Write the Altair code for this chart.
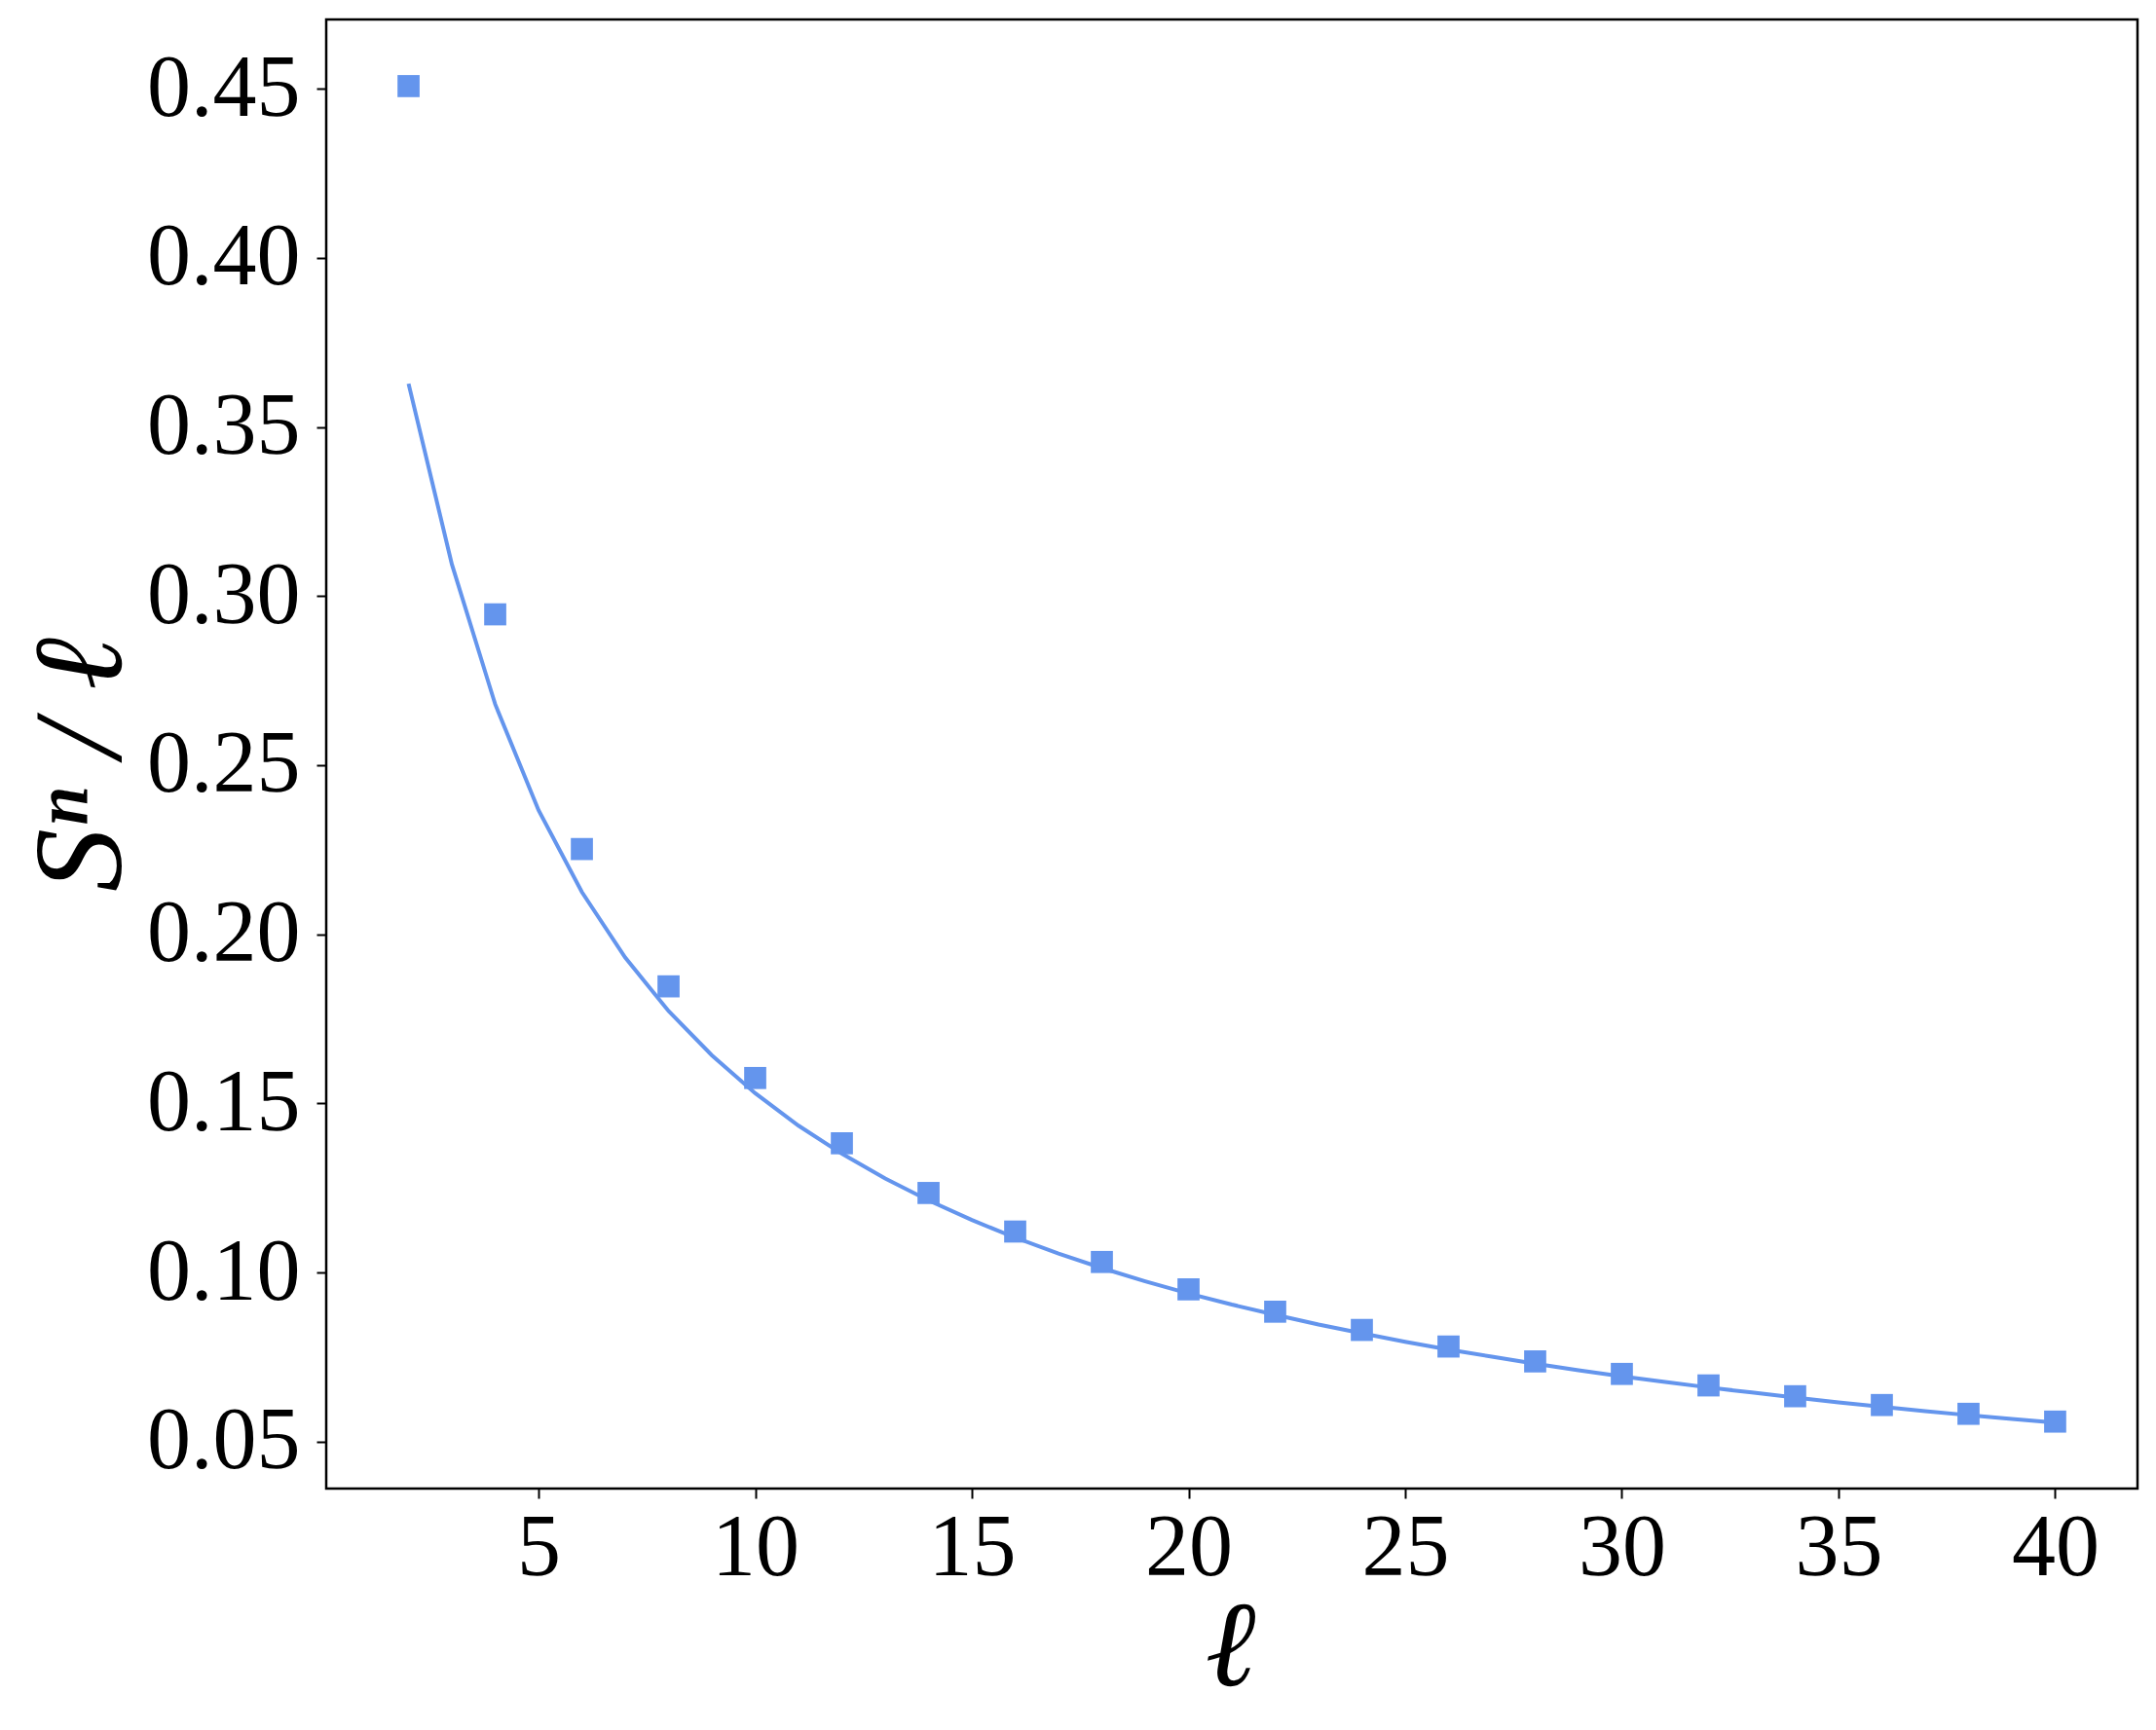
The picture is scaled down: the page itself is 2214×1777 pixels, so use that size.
import altair as alt
import pandas as pd

# Fitted curve (read at each integer ell)
ell_line = list(range(2, 41))
s_line = [0.3628, 0.3094, 0.2680, 0.2367, 0.2125, 0.1931, 0.1773, 0.1642, 0.1530,
          0.1434, 0.1351, 0.1278, 0.1213, 0.1155, 0.1103, 0.1056, 0.1013, 0.0974,
          0.0938, 0.0905, 0.0875, 0.0846, 0.0820, 0.0795, 0.0772, 0.0751, 0.0730,
          0.0711, 0.0693, 0.0676, 0.0660, 0.0645, 0.0630, 0.0616, 0.0603, 0.0590,
          0.0578, 0.0567, 0.0556]

# Data points (squares)
ell_pts = list(range(2, 41, 2))
s_pts = [0.4508, 0.2946, 0.2252, 0.1846, 0.1575, 0.1382, 0.1235, 0.1121, 0.1031,
         0.0950, 0.0884, 0.0830, 0.0781, 0.0737, 0.0700, 0.0666, 0.0634, 0.0608,
         0.0582, 0.0559]

x_ticks = [5, 10, 15, 20, 25, 30, 35, 40]
y_ticks = [0.05, 0.10, 0.15, 0.20, 0.25, 0.30, 0.35, 0.40, 0.45]

df_line = pd.DataFrame({"ell": ell_line, "s": s_line})
df_pts = pd.DataFrame({"ell": ell_pts, "s": s_pts})

COLOR = "#6495ED"
FONT = "Liberation Serif"

x_enc = alt.X(
    "ell:Q",
    scale=alt.Scale(domain=[0.1, 41.9], nice=False, zero=False),
    axis=alt.Axis(
        values=x_ticks, format="d", title="ℓ",
        titleX=928, titleY=201, titleBaseline="alphabetic", titleAlign="center",
        titleFontSize=125, titleFontStyle="italic", titleFontWeight="normal",
        titleFont=FONT, titleColor="black",
        labelFont=FONT, labelFontSize=90, labelColor="black", labelPadding=7,
        tickSize=10, tickWidth=2, tickColor="black", domain=False, grid=False,
    ),
)
y_enc = alt.Y(
    "s:Q",
    scale=alt.Scale(domain=[0.0361, 0.4705], nice=False, zero=False),
    axis=alt.Axis(
        values=y_ticks, format=".2f", title="Sⁿ / ℓ",
        titleX=-212, titleY=765, titleAngle=270, titleBaseline="alphabetic",
        titleAlign="center", titleFontSize=130, titleFontStyle="italic",
        titleFontWeight="normal", titleFont=FONT, titleColor="black",
        labelFont=FONT, labelFontSize=90, labelColor="black", labelPadding=17,
        labelBaseline="middle",
        tickSize=10, tickWidth=2, tickColor="black", domain=False, grid=False,
    ),
)

line = alt.Chart(df_line).mark_line(color=COLOR, strokeWidth=4).encode(x=x_enc, y=y_enc)
pts = alt.Chart(df_pts).mark_square(color=COLOR, size=515, opacity=1, filled=True).encode(
    x=alt.X("ell:Q"), y=alt.Y("s:Q")
)

chart = (
    alt.layer(line, pts)
    .properties(
        width=1860,
        height=1509,
        autosize=alt.AutoSizeParams(type="none"),
        padding={"left": 327, "top": 12, "right": 10, "bottom": 230},
        background="white",
    )
    .configure_view(stroke="black", strokeWidth=2.5)
)

chart.save("out.html", embed_options={"renderer": "svg", "actions": False})
